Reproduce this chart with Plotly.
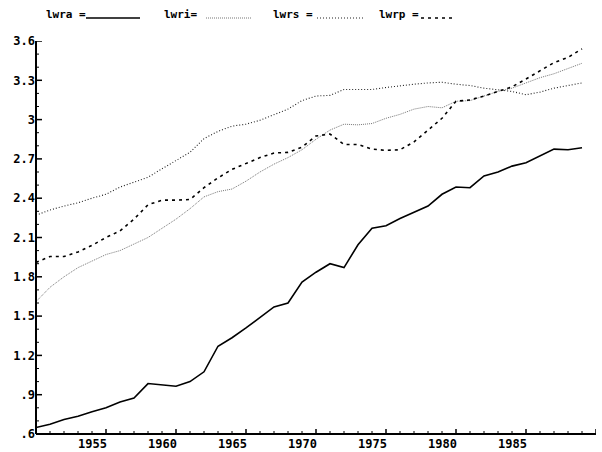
import plotly.graph_objects as go

years = list(range(1950, 1990))

lwra = [0.65, 0.675, 0.71, 0.735, 0.77, 0.80, 0.845, 0.875, 0.985, 0.975,
        0.965, 1.00, 1.075, 1.27, 1.335, 1.41, 1.49, 1.57, 1.60, 1.76,
        1.835, 1.90, 1.87, 2.045, 2.17, 2.19, 2.245, 2.29, 2.34, 2.43,
        2.485, 2.48, 2.57, 2.60, 2.645, 2.67, 2.72, 2.775, 2.77, 2.785]

lwri = [1.61, 1.72, 1.80, 1.87, 1.92, 1.97, 2.00, 2.05, 2.10, 2.17,
        2.24, 2.32, 2.41, 2.45, 2.47, 2.53, 2.60, 2.66, 2.71, 2.77,
        2.85, 2.92, 2.965, 2.96, 2.97, 3.01, 3.04, 3.08, 3.10, 3.09,
        3.14, 3.145, 3.18, 3.215, 3.24, 3.28, 3.32, 3.35, 3.39, 3.43]

lwrs = [2.27, 2.31, 2.34, 2.365, 2.40, 2.43, 2.485, 2.52, 2.56, 2.625,
        2.69, 2.75, 2.855, 2.91, 2.95, 2.965, 2.995, 3.035, 3.08, 3.145,
        3.18, 3.185, 3.23, 3.23, 3.23, 3.245, 3.26, 3.27, 3.28, 3.285,
        3.27, 3.26, 3.24, 3.23, 3.215, 3.19, 3.21, 3.24, 3.26, 3.28]

lwrp = [1.91, 1.955, 1.955, 1.99, 2.04, 2.10, 2.15, 2.24, 2.35, 2.385,
        2.385, 2.39, 2.48, 2.555, 2.62, 2.665, 2.71, 2.745, 2.75, 2.79,
        2.875, 2.89, 2.81, 2.81, 2.775, 2.765, 2.77, 2.83, 2.92, 3.01,
        3.14, 3.15, 3.18, 3.215, 3.25, 3.31, 3.37, 3.435, 3.475, 3.54]

x_tickvals = [1955, 1960, 1965, 1970, 1975, 1980, 1985, 1990]
x_ticktext = ["1955", "1960", "1965", "1970", "1975", "1980", "1985", "1990"]
y_tickvals = [0.6, 0.9, 1.2, 1.5, 1.8, 2.1, 2.4, 2.7, 3.0, 3.3, 3.6]
y_ticktext = [".6", ".9", "1.2", "1.5", "1.8", "2.1", "2.4", "2.7", "3", "3.3", "3.6"]

X_RANGE = [1950, 1990]
Y_RANGE = [0.6, 3.6]

FONT = "DejaVu Sans Mono"

styles = {
    "lwra": dict(color="black", width=1.6, dash="solid"),
    "lwri": dict(color="#777777", width=1.0, dash="1px,1px"),
    "lwrs": dict(color="#222222", width=1.1, dash="1px,2px"),
    "lwrp": dict(color="black", width=1.6, dash="3px,4px"),
}
series = [("lwra", lwra), ("lwri", lwri), ("lwrs", lwrs), ("lwrp", lwrp)]

W, H = 602, 452
ml, mr, mt, mb = 36, 6, 41, 18
pw, ph = W - ml - mr, H - mt - mb
x_per_px = (X_RANGE[1] - X_RANGE[0]) / pw
y_per_px = (Y_RANGE[1] - Y_RANGE[0]) / ph

fig = go.Figure()
for name, vals in series:
    fig.add_trace(go.Scatter(x=years, y=vals, mode="lines", name=name,
                             line=styles[name], showlegend=False))

x0, x1 = X_RANGE
y0, y1 = Y_RANGE

x_major = list(range(x0, x1 + 1, 5))
x_minor = [v for v in range(x0, x1 + 1) if v not in x_major]
n_y = int(round((y1 - y0) / 0.1))
y_all = [round(y0 + 0.1 * i, 1) for i in range(n_y + 1)]
y_major = [v for v in y_all if any(abs(v - t) < 1e-9 for t in y_tickvals)]
y_minor = [v for v in y_all if v not in y_major]

# axis frame as shapes (paper coords)
fig.add_shape(type="line", xref="paper", yref="paper", x0=0, x1=0, y0=0, y1=1,
              line=dict(color="black", width=2), layer="above")
fig.add_shape(type="line", xref="paper", yref="paper", x0=0, x1=1, y0=0, y1=0,
              line=dict(color="black", width=2), layer="above")

# inward ticks as small line traces
def tick_trace(xs, ys, w):
    fig.add_trace(go.Scatter(x=xs, y=ys, mode="lines",
                             line=dict(color="black", width=w),
                             hoverinfo="skip", showlegend=False))

for v in x_major:
    tick_trace([v, v], [y0, y0 + 5 * y_per_px], 1.5)
for v in x_minor:
    tick_trace([v, v], [y0, y0 + 3 * y_per_px], 1)
for v in y_major:
    tick_trace([x0, x0 + 6 * x_per_px], [v, v], 1.5)
for v in y_minor:
    tick_trace([x0, x0 + 3 * x_per_px], [v, v], 1)

# x tick labels as annotations (right edge just past the tick, as in the reference)
for v, t in zip(x_tickvals, x_ticktext):
    fig.add_annotation(x=v + 3 * x_per_px, y=0, xref="x", yref="paper",
                       text=t, showarrow=False, xanchor="right",
                       yanchor="top", yshift=-1,
                       font=dict(family=FONT, size=12, color="black",
                                 weight="bold"))

def px(xp):
    return (xp - ml) / pw

def py(yp):
    return (H - mb - yp) / ph

# custom legend (label followed by line sample) above the plot
legend_items = [("lwra =", 44, 86, 140, "lwra"),
                ("lwri=", 162, 206, 251, "lwri"),
                ("lwrs =", 271, 317, 363, "lwrs"),
                ("lwrp =", 377, 421, 452, "lwrp")]
for label, tx, lx0, lx1, key in legend_items:
    fig.add_annotation(x=px(tx), y=py(14), xref="paper", yref="paper",
                       text=label, showarrow=False, xanchor="left",
                       yanchor="middle",
                       font=dict(family=FONT, size=11, color="black",
                                 weight="bold"))
    st = styles[key]
    fig.add_shape(type="line", xref="paper", yref="paper",
                  x0=px(lx0), x1=px(lx1), y0=py(18), y1=py(18),
                  line=dict(color=st["color"], width=st["width"],
                            dash=st["dash"]))

fig.update_layout(
    width=W, height=H,
    margin=dict(l=ml, r=mr, t=mt, b=mb),
    paper_bgcolor="white", plot_bgcolor="white",
    font=dict(family=FONT, size=11, color="black"),
    showlegend=False,
)
fig.update_xaxes(range=X_RANGE, showgrid=False, zeroline=False,
                 showline=False, ticks="", showticklabels=False,
                 automargin=False)
fig.update_yaxes(range=Y_RANGE, tickvals=y_tickvals, ticktext=y_ticktext,
                 showgrid=False, zeroline=False, showline=False, ticks="",
                 automargin=False,
                 tickfont=dict(family=FONT, size=12, color="black",
                               weight="bold"))

fig.write_html("out.html", config={"displayModeBar": False},
               post_script="document.body.style.margin='0';")
